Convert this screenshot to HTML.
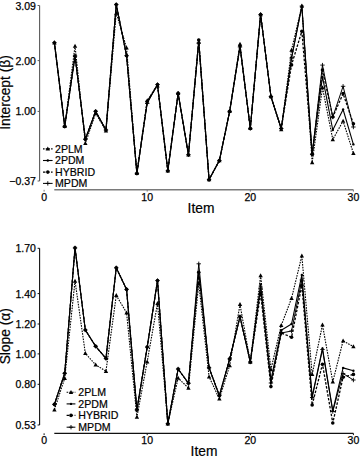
<!DOCTYPE html>
<html><head><meta charset="utf-8"><style>
html,body{margin:0;padding:0;background:#fff;width:360px;height:457px;overflow:hidden}
svg{display:block}
</style></head><body>
<svg width="360" height="457" viewBox="0 0 360 457">
<style>
text{font-family:"Liberation Sans",sans-serif;fill:#000}
.tk{font-size:10.5px;stroke:#000;stroke-width:0.25px}
.lg{font-size:10.6px;stroke:#000;stroke-width:0.2px}
.lab{font-size:13.8px;stroke:#000;stroke-width:0.2px}
</style>
<rect width="360" height="457" fill="#fff"/>
<line x1="39.6" y1="5.5" x2="39.6" y2="181.0" stroke="#5a5a5a" stroke-width="1.1"/>
<line x1="37.6" y1="5.5" x2="39.6" y2="5.5" stroke="#5a5a5a" stroke-width="1"/>
<text x="35.9" y="9.5" text-anchor="end" class="tk">3.09</text>
<line x1="37.6" y1="60.6" x2="39.6" y2="60.6" stroke="#5a5a5a" stroke-width="1"/>
<text x="35.9" y="64.6" text-anchor="end" class="tk">2.00</text>
<line x1="37.6" y1="111.4" x2="39.6" y2="111.4" stroke="#5a5a5a" stroke-width="1"/>
<text x="35.9" y="115.4" text-anchor="end" class="tk">1.00</text>
<line x1="37.6" y1="181.0" x2="39.6" y2="181.0" stroke="#5a5a5a" stroke-width="1"/>
<text x="35.9" y="185.0" text-anchor="end" class="tk">−0.37</text>
<line x1="54.3" y1="189.8" x2="353.4" y2="189.8" stroke="#7a7a7a" stroke-width="1.6"/>
<line x1="44.10" y1="189.8" x2="44.10" y2="191.60000000000002" stroke="#7a7a7a" stroke-width="1"/>
<text x="44.10" y="200.70000000000002" text-anchor="middle" class="tk">0</text>
<line x1="147.20" y1="189.8" x2="147.20" y2="191.60000000000002" stroke="#7a7a7a" stroke-width="1"/>
<text x="147.20" y="200.70000000000002" text-anchor="middle" class="tk">10</text>
<line x1="250.30" y1="189.8" x2="250.30" y2="191.60000000000002" stroke="#7a7a7a" stroke-width="1"/>
<text x="250.30" y="200.70000000000002" text-anchor="middle" class="tk">20</text>
<line x1="353.40" y1="189.8" x2="353.40" y2="191.60000000000002" stroke="#7a7a7a" stroke-width="1"/>
<text x="353.40" y="200.70000000000002" text-anchor="middle" class="tk">30</text>
<text transform="translate(10.1 92.5) rotate(-90)" text-anchor="middle" class="lab">Intercept (β)</text>
<text x="201" y="212.9" text-anchor="middle" class="lab">Item</text>
<polyline points="54.41,42.70 64.72,126.30 75.03,56.00 85.34,139.20 95.65,111.30 105.96,130.00 116.27,4.60 126.58,55.70 136.89,173.30 147.20,103.50 157.51,84.60 167.82,170.80 178.13,93.30 188.44,154.70 198.75,43.00 209.06,179.60 219.37,160.60 229.68,111.30 239.99,47.00 250.30,128.40 260.61,14.50 270.92,96.50 281.23,128.50 291.54,58.00 301.85,6.10 312.16,154.20 322.47,65.10 332.78,117.00 343.09,86.30 353.40,127.00" fill="none" stroke="#000" stroke-width="1.0" stroke-linejoin="round"/>
<polyline points="54.41,42.70 64.72,126.30 75.03,56.00 85.34,139.20 95.65,111.30 105.96,130.00 116.27,4.60 126.58,55.70 136.89,173.30 147.20,101.50 157.51,84.60 167.82,170.80 178.13,93.30 188.44,154.70 198.75,40.00 209.06,179.60 219.37,160.60 229.68,111.30 239.99,46.00 250.30,128.40 260.61,14.50 270.92,96.50 281.23,128.50 291.54,64.90 301.85,31.20 312.16,154.20 322.47,70.00 332.78,117.00 343.09,93.60 353.40,123.80" fill="none" stroke="#000" stroke-width="1.3" stroke-dasharray="2.5,1.5" stroke-linejoin="round"/>
<polyline points="54.41,42.70 64.72,126.30 75.03,56.00 85.34,139.20 95.65,111.30 105.96,130.00 116.27,4.60 126.58,55.70 136.89,173.30 147.20,102.00 157.51,84.60 167.82,170.80 178.13,93.30 188.44,154.70 198.75,40.00 209.06,179.60 219.37,160.60 229.68,111.30 239.99,46.00 250.30,128.40 260.61,14.50 270.92,96.50 281.23,128.50 291.54,58.00 301.85,6.10 312.16,154.20 322.47,76.70 332.78,130.00 343.09,109.50 353.40,144.40" fill="none" stroke="#000" stroke-width="1.1" stroke-linejoin="round"/>
<polyline points="54.41,42.70 64.72,126.30 75.03,46.00 85.34,143.30 95.65,113.30 105.96,130.80 116.27,13.00 126.58,47.90 136.89,173.30 147.20,100.50 157.51,85.80 167.82,170.80 178.13,93.30 188.44,154.70 198.75,42.00 209.06,179.60 219.37,160.60 229.68,111.30 239.99,44.00 250.30,128.40 260.61,14.50 270.92,96.50 281.23,129.50 291.54,50.00 301.85,6.10 312.16,162.50 322.47,87.50 332.78,139.50 343.09,121.00 353.40,153.30" fill="none" stroke="#000" stroke-width="1.1" stroke-dasharray="1.6,1.1" stroke-linejoin="round"/>
<path d="M52.21 42.70H56.61M54.41 40.50V44.90" stroke="#000" stroke-width="0.9"/>
<path d="M62.52 126.30H66.92M64.72 124.10V128.50" stroke="#000" stroke-width="0.9"/>
<path d="M72.83 56.00H77.23M75.03 53.80V58.20" stroke="#000" stroke-width="0.9"/>
<path d="M83.14 139.20H87.54M85.34 137.00V141.40" stroke="#000" stroke-width="0.9"/>
<path d="M93.45 111.30H97.85M95.65 109.10V113.50" stroke="#000" stroke-width="0.9"/>
<path d="M103.76 130.00H108.16M105.96 127.80V132.20" stroke="#000" stroke-width="0.9"/>
<path d="M114.07 4.60H118.47M116.27 2.40V6.80" stroke="#000" stroke-width="0.9"/>
<path d="M124.38 55.70H128.78M126.58 53.50V57.90" stroke="#000" stroke-width="0.9"/>
<path d="M134.69 173.30H139.09M136.89 171.10V175.50" stroke="#000" stroke-width="0.9"/>
<path d="M145.00 103.50H149.40M147.20 101.30V105.70" stroke="#000" stroke-width="0.9"/>
<path d="M155.31 84.60H159.71M157.51 82.40V86.80" stroke="#000" stroke-width="0.9"/>
<path d="M165.62 170.80H170.02M167.82 168.60V173.00" stroke="#000" stroke-width="0.9"/>
<path d="M175.93 93.30H180.33M178.13 91.10V95.50" stroke="#000" stroke-width="0.9"/>
<path d="M186.24 154.70H190.64M188.44 152.50V156.90" stroke="#000" stroke-width="0.9"/>
<path d="M196.55 43.00H200.95M198.75 40.80V45.20" stroke="#000" stroke-width="0.9"/>
<path d="M206.86 179.60H211.26M209.06 177.40V181.80" stroke="#000" stroke-width="0.9"/>
<path d="M217.17 160.60H221.57M219.37 158.40V162.80" stroke="#000" stroke-width="0.9"/>
<path d="M227.48 111.30H231.88M229.68 109.10V113.50" stroke="#000" stroke-width="0.9"/>
<path d="M237.79 47.00H242.19M239.99 44.80V49.20" stroke="#000" stroke-width="0.9"/>
<path d="M248.10 128.40H252.50M250.30 126.20V130.60" stroke="#000" stroke-width="0.9"/>
<path d="M258.41 14.50H262.81M260.61 12.30V16.70" stroke="#000" stroke-width="0.9"/>
<path d="M268.72 96.50H273.12M270.92 94.30V98.70" stroke="#000" stroke-width="0.9"/>
<path d="M279.03 128.50H283.43M281.23 126.30V130.70" stroke="#000" stroke-width="0.9"/>
<path d="M289.34 58.00H293.74M291.54 55.80V60.20" stroke="#000" stroke-width="0.9"/>
<path d="M299.65 6.10H304.05M301.85 3.90V8.30" stroke="#000" stroke-width="0.9"/>
<path d="M309.96 154.20H314.36M312.16 152.00V156.40" stroke="#000" stroke-width="0.9"/>
<path d="M320.27 65.10H324.67M322.47 62.90V67.30" stroke="#000" stroke-width="0.9"/>
<path d="M330.58 117.00H334.98M332.78 114.80V119.20" stroke="#000" stroke-width="0.9"/>
<path d="M340.89 86.30H345.29M343.09 84.10V88.50" stroke="#000" stroke-width="0.9"/>
<path d="M351.20 127.00H355.60M353.40 124.80V129.20" stroke="#000" stroke-width="0.9"/>
<circle cx="54.41" cy="42.70" r="1.8" fill="#000"/>
<circle cx="64.72" cy="126.30" r="1.8" fill="#000"/>
<circle cx="75.03" cy="56.00" r="1.8" fill="#000"/>
<circle cx="85.34" cy="139.20" r="1.8" fill="#000"/>
<circle cx="95.65" cy="111.30" r="1.8" fill="#000"/>
<circle cx="105.96" cy="130.00" r="1.8" fill="#000"/>
<circle cx="116.27" cy="4.60" r="1.8" fill="#000"/>
<circle cx="126.58" cy="55.70" r="1.8" fill="#000"/>
<circle cx="136.89" cy="173.30" r="1.8" fill="#000"/>
<circle cx="147.20" cy="101.50" r="1.8" fill="#000"/>
<circle cx="157.51" cy="84.60" r="1.8" fill="#000"/>
<circle cx="167.82" cy="170.80" r="1.8" fill="#000"/>
<circle cx="178.13" cy="93.30" r="1.8" fill="#000"/>
<circle cx="188.44" cy="154.70" r="1.8" fill="#000"/>
<circle cx="198.75" cy="40.00" r="1.8" fill="#000"/>
<circle cx="209.06" cy="179.60" r="1.8" fill="#000"/>
<circle cx="219.37" cy="160.60" r="1.8" fill="#000"/>
<circle cx="229.68" cy="111.30" r="1.8" fill="#000"/>
<circle cx="239.99" cy="46.00" r="1.8" fill="#000"/>
<circle cx="250.30" cy="128.40" r="1.8" fill="#000"/>
<circle cx="260.61" cy="14.50" r="1.8" fill="#000"/>
<circle cx="270.92" cy="96.50" r="1.8" fill="#000"/>
<circle cx="281.23" cy="128.50" r="1.8" fill="#000"/>
<circle cx="291.54" cy="64.90" r="1.8" fill="#000"/>
<circle cx="301.85" cy="31.20" r="1.8" fill="#000"/>
<circle cx="312.16" cy="154.20" r="1.8" fill="#000"/>
<circle cx="322.47" cy="70.00" r="1.8" fill="#000"/>
<circle cx="332.78" cy="117.00" r="1.8" fill="#000"/>
<circle cx="343.09" cy="93.60" r="1.8" fill="#000"/>
<circle cx="353.40" cy="123.80" r="1.8" fill="#000"/>
<circle cx="54.41" cy="42.70" r="1.2" fill="#000"/>
<circle cx="64.72" cy="126.30" r="1.2" fill="#000"/>
<circle cx="75.03" cy="56.00" r="1.2" fill="#000"/>
<circle cx="85.34" cy="139.20" r="1.2" fill="#000"/>
<circle cx="95.65" cy="111.30" r="1.2" fill="#000"/>
<circle cx="105.96" cy="130.00" r="1.2" fill="#000"/>
<circle cx="116.27" cy="4.60" r="1.2" fill="#000"/>
<circle cx="126.58" cy="55.70" r="1.2" fill="#000"/>
<circle cx="136.89" cy="173.30" r="1.2" fill="#000"/>
<circle cx="147.20" cy="102.00" r="1.2" fill="#000"/>
<circle cx="157.51" cy="84.60" r="1.2" fill="#000"/>
<circle cx="167.82" cy="170.80" r="1.2" fill="#000"/>
<circle cx="178.13" cy="93.30" r="1.2" fill="#000"/>
<circle cx="188.44" cy="154.70" r="1.2" fill="#000"/>
<circle cx="198.75" cy="40.00" r="1.2" fill="#000"/>
<circle cx="209.06" cy="179.60" r="1.2" fill="#000"/>
<circle cx="219.37" cy="160.60" r="1.2" fill="#000"/>
<circle cx="229.68" cy="111.30" r="1.2" fill="#000"/>
<circle cx="239.99" cy="46.00" r="1.2" fill="#000"/>
<circle cx="250.30" cy="128.40" r="1.2" fill="#000"/>
<circle cx="260.61" cy="14.50" r="1.2" fill="#000"/>
<circle cx="270.92" cy="96.50" r="1.2" fill="#000"/>
<circle cx="281.23" cy="128.50" r="1.2" fill="#000"/>
<circle cx="291.54" cy="58.00" r="1.2" fill="#000"/>
<circle cx="301.85" cy="6.10" r="1.2" fill="#000"/>
<circle cx="312.16" cy="154.20" r="1.2" fill="#000"/>
<circle cx="322.47" cy="76.70" r="1.2" fill="#000"/>
<circle cx="332.78" cy="130.00" r="1.2" fill="#000"/>
<circle cx="343.09" cy="109.50" r="1.2" fill="#000"/>
<circle cx="353.40" cy="144.40" r="1.2" fill="#000"/>
<path d="M54.41 40.40L56.60 44.43L52.23 44.43Z" fill="#000"/>
<path d="M64.72 124.00L66.91 128.03L62.53 128.03Z" fill="#000"/>
<path d="M75.03 43.70L77.22 47.73L72.84 47.73Z" fill="#000"/>
<path d="M85.34 141.00L87.53 145.03L83.16 145.03Z" fill="#000"/>
<path d="M95.65 111.00L97.84 115.02L93.47 115.02Z" fill="#000"/>
<path d="M105.96 128.50L108.15 132.53L103.78 132.53Z" fill="#000"/>
<path d="M116.27 10.70L118.46 14.72L114.09 14.72Z" fill="#000"/>
<path d="M126.58 45.60L128.77 49.62L124.40 49.62Z" fill="#000"/>
<path d="M136.89 171.00L139.08 175.03L134.71 175.03Z" fill="#000"/>
<path d="M147.20 98.20L149.39 102.22L145.02 102.22Z" fill="#000"/>
<path d="M157.51 83.50L159.70 87.52L155.33 87.52Z" fill="#000"/>
<path d="M167.82 168.50L170.00 172.53L165.63 172.53Z" fill="#000"/>
<path d="M178.13 91.00L180.31 95.02L175.94 95.02Z" fill="#000"/>
<path d="M188.44 152.40L190.62 156.42L186.25 156.42Z" fill="#000"/>
<path d="M198.75 39.70L200.94 43.73L196.56 43.73Z" fill="#000"/>
<path d="M209.06 177.30L211.25 181.32L206.88 181.32Z" fill="#000"/>
<path d="M219.37 158.30L221.56 162.32L217.19 162.32Z" fill="#000"/>
<path d="M229.68 109.00L231.87 113.02L227.50 113.02Z" fill="#000"/>
<path d="M239.99 41.70L242.18 45.73L237.81 45.73Z" fill="#000"/>
<path d="M250.30 126.10L252.49 130.12L248.12 130.12Z" fill="#000"/>
<path d="M260.61 12.20L262.80 16.23L258.43 16.23Z" fill="#000"/>
<path d="M270.92 94.20L273.11 98.22L268.74 98.22Z" fill="#000"/>
<path d="M281.23 127.20L283.42 131.22L279.05 131.22Z" fill="#000"/>
<path d="M291.54 47.70L293.73 51.73L289.36 51.73Z" fill="#000"/>
<path d="M301.85 3.80L304.04 7.82L299.67 7.82Z" fill="#000"/>
<path d="M312.16 160.20L314.35 164.22L309.98 164.22Z" fill="#000"/>
<path d="M322.47 85.20L324.66 89.22L320.29 89.22Z" fill="#000"/>
<path d="M332.78 137.20L334.97 141.22L330.60 141.22Z" fill="#000"/>
<path d="M343.09 118.70L345.28 122.72L340.91 122.72Z" fill="#000"/>
<path d="M353.40 151.00L355.59 155.03L351.22 155.03Z" fill="#000"/>
<line x1="43" y1="148.9" x2="52.6" y2="148.9" stroke="#000" stroke-width="1.1" stroke-dasharray="1.6,1.1"/>
<path d="M47.80 146.60L49.98 150.62L45.61 150.62Z" fill="#000"/>
<text x="55" y="152.5" class="lg">2PLM</text>
<line x1="43" y1="160.5" x2="52.6" y2="160.5" stroke="#000" stroke-width="1.1"/>
<circle cx="47.80" cy="160.50" r="1.2" fill="#000"/>
<text x="55" y="164.1" class="lg">2PDM</text>
<line x1="43" y1="172.1" x2="52.6" y2="172.1" stroke="#000" stroke-width="1.3" stroke-dasharray="2.5,1.5"/>
<circle cx="47.80" cy="172.10" r="1.8" fill="#000"/>
<text x="55" y="175.7" class="lg">HYBRID</text>
<line x1="43" y1="183.4" x2="52.6" y2="183.4" stroke="#000" stroke-width="1.0"/>
<path d="M45.60 183.40H50.00M47.80 181.20V185.60" stroke="#000" stroke-width="0.9"/>
<text x="55" y="187.0" class="lg">MPDM</text>
<line x1="39.6" y1="248.3" x2="39.6" y2="425.0" stroke="#111" stroke-width="1.1"/>
<line x1="37.6" y1="248.3" x2="39.6" y2="248.3" stroke="#111" stroke-width="1"/>
<text x="35.9" y="252.3" text-anchor="end" class="tk">1.70</text>
<line x1="37.6" y1="293.6" x2="39.6" y2="293.6" stroke="#111" stroke-width="1"/>
<text x="35.9" y="297.6" text-anchor="end" class="tk">1.40</text>
<line x1="37.6" y1="324.0" x2="39.6" y2="324.0" stroke="#111" stroke-width="1"/>
<text x="35.9" y="328.0" text-anchor="end" class="tk">1.20</text>
<line x1="37.6" y1="353.9" x2="39.6" y2="353.9" stroke="#111" stroke-width="1"/>
<text x="35.9" y="357.9" text-anchor="end" class="tk">1.00</text>
<line x1="37.6" y1="384.3" x2="39.6" y2="384.3" stroke="#111" stroke-width="1"/>
<text x="35.9" y="388.3" text-anchor="end" class="tk">0.80</text>
<line x1="37.6" y1="425.0" x2="39.6" y2="425.0" stroke="#111" stroke-width="1"/>
<text x="35.9" y="429.0" text-anchor="end" class="tk">0.53</text>
<line x1="54.3" y1="433.3" x2="353.4" y2="433.3" stroke="#111" stroke-width="1.2"/>
<line x1="44.10" y1="433.3" x2="44.10" y2="435.1" stroke="#111" stroke-width="1"/>
<text x="44.10" y="444.2" text-anchor="middle" class="tk">0</text>
<line x1="147.20" y1="433.3" x2="147.20" y2="435.1" stroke="#111" stroke-width="1"/>
<text x="147.20" y="444.2" text-anchor="middle" class="tk">10</text>
<line x1="250.30" y1="433.3" x2="250.30" y2="435.1" stroke="#111" stroke-width="1"/>
<text x="250.30" y="444.2" text-anchor="middle" class="tk">20</text>
<line x1="353.40" y1="433.3" x2="353.40" y2="435.1" stroke="#111" stroke-width="1"/>
<text x="353.40" y="444.2" text-anchor="middle" class="tk">30</text>
<text transform="translate(10.1 336.2) rotate(-90)" text-anchor="middle" class="lab">Slope (α)</text>
<text x="204" y="456.2" text-anchor="middle" class="lab">Item</text>
<polyline points="54.41,404.40 64.72,373.30 75.03,247.90 85.34,330.00 95.65,346.30 105.96,358.40 116.27,267.80 126.58,289.40 136.89,409.90 147.20,347.10 157.51,280.60 167.82,423.70 178.13,369.00 188.44,383.20 198.75,263.80 209.06,367.80 219.37,395.60 229.68,358.90 239.99,316.70 250.30,362.00 260.61,288.00 270.92,383.00 281.23,333.00 291.54,331.00 301.85,280.00 312.16,397.50 322.47,349.50 332.78,411.50 343.09,373.50 353.40,380.00" fill="none" stroke="#000" stroke-width="1.0" stroke-linejoin="round"/>
<polyline points="54.41,404.40 64.72,373.30 75.03,247.90 85.34,330.00 95.65,346.30 105.96,358.40 116.27,267.80 126.58,289.40 136.89,409.90 147.20,347.10 157.51,280.60 167.82,423.70 178.13,369.00 188.44,383.20 198.75,272.20 209.06,367.80 219.37,395.60 229.68,358.90 239.99,316.70 250.30,362.00 260.61,293.30 270.92,386.60 281.23,333.00 291.54,337.20 301.85,285.30 312.16,405.00 322.47,364.20 332.78,423.00 343.09,377.20 353.40,374.40" fill="none" stroke="#000" stroke-width="1.3" stroke-dasharray="2.5,1.5" stroke-linejoin="round"/>
<polyline points="54.41,404.40 64.72,373.30 75.03,247.90 85.34,330.00 95.65,346.30 105.96,358.40 116.27,267.80 126.58,289.40 136.89,409.90 147.20,347.10 157.51,280.60 167.82,423.70 178.13,369.00 188.44,383.20 198.75,272.20 209.06,367.80 219.37,395.60 229.68,358.90 239.99,316.70 250.30,362.00 260.61,284.40 270.92,380.00 281.23,330.30 291.54,324.00 301.85,274.90 312.16,396.50 322.47,348.40 332.78,410.60 343.09,367.90 353.40,370.70" fill="none" stroke="#000" stroke-width="1.1" stroke-linejoin="round"/>
<polyline points="54.41,409.70 64.72,378.20 75.03,281.00 85.34,353.40 95.65,364.80 105.96,371.20 116.27,295.40 126.58,312.70 136.89,417.10 147.20,361.70 157.51,303.30 167.82,423.70 178.13,378.10 188.44,388.00 198.75,283.30 209.06,376.70 219.37,398.90 229.68,365.60 239.99,304.40 250.30,362.00 260.61,275.60 270.92,369.50 281.23,325.40 291.54,298.30 301.85,255.80 312.16,374.40 322.47,324.90 332.78,381.80 343.09,340.80 353.40,346.60" fill="none" stroke="#000" stroke-width="1.1" stroke-dasharray="1.6,1.1" stroke-linejoin="round"/>
<path d="M52.21 404.40H56.61M54.41 402.20V406.60" stroke="#000" stroke-width="0.9"/>
<path d="M62.52 373.30H66.92M64.72 371.10V375.50" stroke="#000" stroke-width="0.9"/>
<path d="M72.83 247.90H77.23M75.03 245.70V250.10" stroke="#000" stroke-width="0.9"/>
<path d="M83.14 330.00H87.54M85.34 327.80V332.20" stroke="#000" stroke-width="0.9"/>
<path d="M93.45 346.30H97.85M95.65 344.10V348.50" stroke="#000" stroke-width="0.9"/>
<path d="M103.76 358.40H108.16M105.96 356.20V360.60" stroke="#000" stroke-width="0.9"/>
<path d="M114.07 267.80H118.47M116.27 265.60V270.00" stroke="#000" stroke-width="0.9"/>
<path d="M124.38 289.40H128.78M126.58 287.20V291.60" stroke="#000" stroke-width="0.9"/>
<path d="M134.69 409.90H139.09M136.89 407.70V412.10" stroke="#000" stroke-width="0.9"/>
<path d="M145.00 347.10H149.40M147.20 344.90V349.30" stroke="#000" stroke-width="0.9"/>
<path d="M155.31 280.60H159.71M157.51 278.40V282.80" stroke="#000" stroke-width="0.9"/>
<path d="M165.62 423.70H170.02M167.82 421.50V425.90" stroke="#000" stroke-width="0.9"/>
<path d="M175.93 369.00H180.33M178.13 366.80V371.20" stroke="#000" stroke-width="0.9"/>
<path d="M186.24 383.20H190.64M188.44 381.00V385.40" stroke="#000" stroke-width="0.9"/>
<path d="M196.55 263.80H200.95M198.75 261.60V266.00" stroke="#000" stroke-width="0.9"/>
<path d="M206.86 367.80H211.26M209.06 365.60V370.00" stroke="#000" stroke-width="0.9"/>
<path d="M217.17 395.60H221.57M219.37 393.40V397.80" stroke="#000" stroke-width="0.9"/>
<path d="M227.48 358.90H231.88M229.68 356.70V361.10" stroke="#000" stroke-width="0.9"/>
<path d="M237.79 316.70H242.19M239.99 314.50V318.90" stroke="#000" stroke-width="0.9"/>
<path d="M248.10 362.00H252.50M250.30 359.80V364.20" stroke="#000" stroke-width="0.9"/>
<path d="M258.41 288.00H262.81M260.61 285.80V290.20" stroke="#000" stroke-width="0.9"/>
<path d="M268.72 383.00H273.12M270.92 380.80V385.20" stroke="#000" stroke-width="0.9"/>
<path d="M279.03 333.00H283.43M281.23 330.80V335.20" stroke="#000" stroke-width="0.9"/>
<path d="M289.34 331.00H293.74M291.54 328.80V333.20" stroke="#000" stroke-width="0.9"/>
<path d="M299.65 280.00H304.05M301.85 277.80V282.20" stroke="#000" stroke-width="0.9"/>
<path d="M309.96 397.50H314.36M312.16 395.30V399.70" stroke="#000" stroke-width="0.9"/>
<path d="M320.27 349.50H324.67M322.47 347.30V351.70" stroke="#000" stroke-width="0.9"/>
<path d="M330.58 411.50H334.98M332.78 409.30V413.70" stroke="#000" stroke-width="0.9"/>
<path d="M340.89 373.50H345.29M343.09 371.30V375.70" stroke="#000" stroke-width="0.9"/>
<path d="M351.20 380.00H355.60M353.40 377.80V382.20" stroke="#000" stroke-width="0.9"/>
<circle cx="54.41" cy="404.40" r="1.8" fill="#000"/>
<circle cx="64.72" cy="373.30" r="1.8" fill="#000"/>
<circle cx="75.03" cy="247.90" r="1.8" fill="#000"/>
<circle cx="85.34" cy="330.00" r="1.8" fill="#000"/>
<circle cx="95.65" cy="346.30" r="1.8" fill="#000"/>
<circle cx="105.96" cy="358.40" r="1.8" fill="#000"/>
<circle cx="116.27" cy="267.80" r="1.8" fill="#000"/>
<circle cx="126.58" cy="289.40" r="1.8" fill="#000"/>
<circle cx="136.89" cy="409.90" r="1.8" fill="#000"/>
<circle cx="147.20" cy="347.10" r="1.8" fill="#000"/>
<circle cx="157.51" cy="280.60" r="1.8" fill="#000"/>
<circle cx="167.82" cy="423.70" r="1.8" fill="#000"/>
<circle cx="178.13" cy="369.00" r="1.8" fill="#000"/>
<circle cx="188.44" cy="383.20" r="1.8" fill="#000"/>
<circle cx="198.75" cy="272.20" r="1.8" fill="#000"/>
<circle cx="209.06" cy="367.80" r="1.8" fill="#000"/>
<circle cx="219.37" cy="395.60" r="1.8" fill="#000"/>
<circle cx="229.68" cy="358.90" r="1.8" fill="#000"/>
<circle cx="239.99" cy="316.70" r="1.8" fill="#000"/>
<circle cx="250.30" cy="362.00" r="1.8" fill="#000"/>
<circle cx="260.61" cy="293.30" r="1.8" fill="#000"/>
<circle cx="270.92" cy="386.60" r="1.8" fill="#000"/>
<circle cx="281.23" cy="333.00" r="1.8" fill="#000"/>
<circle cx="291.54" cy="337.20" r="1.8" fill="#000"/>
<circle cx="301.85" cy="285.30" r="1.8" fill="#000"/>
<circle cx="312.16" cy="405.00" r="1.8" fill="#000"/>
<circle cx="322.47" cy="364.20" r="1.8" fill="#000"/>
<circle cx="332.78" cy="423.00" r="1.8" fill="#000"/>
<circle cx="343.09" cy="377.20" r="1.8" fill="#000"/>
<circle cx="353.40" cy="374.40" r="1.8" fill="#000"/>
<circle cx="54.41" cy="404.40" r="1.2" fill="#000"/>
<circle cx="64.72" cy="373.30" r="1.2" fill="#000"/>
<circle cx="75.03" cy="247.90" r="1.2" fill="#000"/>
<circle cx="85.34" cy="330.00" r="1.2" fill="#000"/>
<circle cx="95.65" cy="346.30" r="1.2" fill="#000"/>
<circle cx="105.96" cy="358.40" r="1.2" fill="#000"/>
<circle cx="116.27" cy="267.80" r="1.2" fill="#000"/>
<circle cx="126.58" cy="289.40" r="1.2" fill="#000"/>
<circle cx="136.89" cy="409.90" r="1.2" fill="#000"/>
<circle cx="147.20" cy="347.10" r="1.2" fill="#000"/>
<circle cx="157.51" cy="280.60" r="1.2" fill="#000"/>
<circle cx="167.82" cy="423.70" r="1.2" fill="#000"/>
<circle cx="178.13" cy="369.00" r="1.2" fill="#000"/>
<circle cx="188.44" cy="383.20" r="1.2" fill="#000"/>
<circle cx="198.75" cy="272.20" r="1.2" fill="#000"/>
<circle cx="209.06" cy="367.80" r="1.2" fill="#000"/>
<circle cx="219.37" cy="395.60" r="1.2" fill="#000"/>
<circle cx="229.68" cy="358.90" r="1.2" fill="#000"/>
<circle cx="239.99" cy="316.70" r="1.2" fill="#000"/>
<circle cx="250.30" cy="362.00" r="1.2" fill="#000"/>
<circle cx="260.61" cy="284.40" r="1.2" fill="#000"/>
<circle cx="270.92" cy="380.00" r="1.2" fill="#000"/>
<circle cx="281.23" cy="330.30" r="1.2" fill="#000"/>
<circle cx="291.54" cy="324.00" r="1.2" fill="#000"/>
<circle cx="301.85" cy="274.90" r="1.2" fill="#000"/>
<circle cx="312.16" cy="396.50" r="1.2" fill="#000"/>
<circle cx="322.47" cy="348.40" r="1.2" fill="#000"/>
<circle cx="332.78" cy="410.60" r="1.2" fill="#000"/>
<circle cx="343.09" cy="367.90" r="1.2" fill="#000"/>
<circle cx="353.40" cy="370.70" r="1.2" fill="#000"/>
<path d="M54.41 407.40L56.60 411.43L52.23 411.43Z" fill="#000"/>
<path d="M64.72 375.90L66.91 379.93L62.53 379.93Z" fill="#000"/>
<path d="M75.03 278.70L77.22 282.73L72.84 282.73Z" fill="#000"/>
<path d="M85.34 351.10L87.53 355.12L83.16 355.12Z" fill="#000"/>
<path d="M95.65 362.50L97.84 366.53L93.47 366.53Z" fill="#000"/>
<path d="M105.96 368.90L108.15 372.93L103.78 372.93Z" fill="#000"/>
<path d="M116.27 293.10L118.46 297.12L114.09 297.12Z" fill="#000"/>
<path d="M126.58 310.40L128.77 314.43L124.40 314.43Z" fill="#000"/>
<path d="M136.89 414.80L139.08 418.83L134.71 418.83Z" fill="#000"/>
<path d="M147.20 359.40L149.39 363.43L145.02 363.43Z" fill="#000"/>
<path d="M157.51 301.00L159.70 305.03L155.33 305.03Z" fill="#000"/>
<path d="M167.82 421.40L170.00 425.43L165.63 425.43Z" fill="#000"/>
<path d="M178.13 375.80L180.31 379.83L175.94 379.83Z" fill="#000"/>
<path d="M188.44 385.70L190.62 389.73L186.25 389.73Z" fill="#000"/>
<path d="M198.75 281.00L200.94 285.03L196.56 285.03Z" fill="#000"/>
<path d="M209.06 374.40L211.25 378.43L206.88 378.43Z" fill="#000"/>
<path d="M219.37 396.60L221.56 400.62L217.19 400.62Z" fill="#000"/>
<path d="M229.68 363.30L231.87 367.33L227.50 367.33Z" fill="#000"/>
<path d="M239.99 302.10L242.18 306.12L237.81 306.12Z" fill="#000"/>
<path d="M250.30 359.70L252.49 363.73L248.12 363.73Z" fill="#000"/>
<path d="M260.61 273.30L262.80 277.33L258.43 277.33Z" fill="#000"/>
<path d="M270.92 367.20L273.11 371.23L268.74 371.23Z" fill="#000"/>
<path d="M281.23 323.10L283.42 327.12L279.05 327.12Z" fill="#000"/>
<path d="M291.54 296.00L293.73 300.03L289.36 300.03Z" fill="#000"/>
<path d="M301.85 253.50L304.04 257.53L299.67 257.53Z" fill="#000"/>
<path d="M312.16 372.10L314.35 376.12L309.98 376.12Z" fill="#000"/>
<path d="M322.47 322.60L324.66 326.62L320.29 326.62Z" fill="#000"/>
<path d="M332.78 379.50L334.97 383.53L330.60 383.53Z" fill="#000"/>
<path d="M343.09 338.50L345.28 342.53L340.91 342.53Z" fill="#000"/>
<path d="M353.40 344.30L355.59 348.33L351.22 348.33Z" fill="#000"/>
<line x1="66.6" y1="392.3" x2="75.4" y2="392.3" stroke="#000" stroke-width="1.1" stroke-dasharray="1.6,1.1"/>
<path d="M71.00 390.00L73.19 394.03L68.81 394.03Z" fill="#000"/>
<text x="78.3" y="395.90000000000003" class="lg">2PLM</text>
<line x1="66.6" y1="403.9" x2="75.4" y2="403.9" stroke="#000" stroke-width="1.1"/>
<circle cx="71.00" cy="403.90" r="1.2" fill="#000"/>
<text x="78.3" y="407.5" class="lg">2PDM</text>
<line x1="66.6" y1="415.4" x2="75.4" y2="415.4" stroke="#000" stroke-width="1.3" stroke-dasharray="2.5,1.5"/>
<circle cx="71.00" cy="415.40" r="1.8" fill="#000"/>
<text x="78.3" y="419.0" class="lg">HYBRID</text>
<line x1="66.6" y1="427.2" x2="75.4" y2="427.2" stroke="#000" stroke-width="1.0"/>
<path d="M68.80 427.20H73.20M71.00 425.00V429.40" stroke="#000" stroke-width="0.9"/>
<text x="78.3" y="430.8" class="lg">MPDM</text>
</svg>
</body></html>
